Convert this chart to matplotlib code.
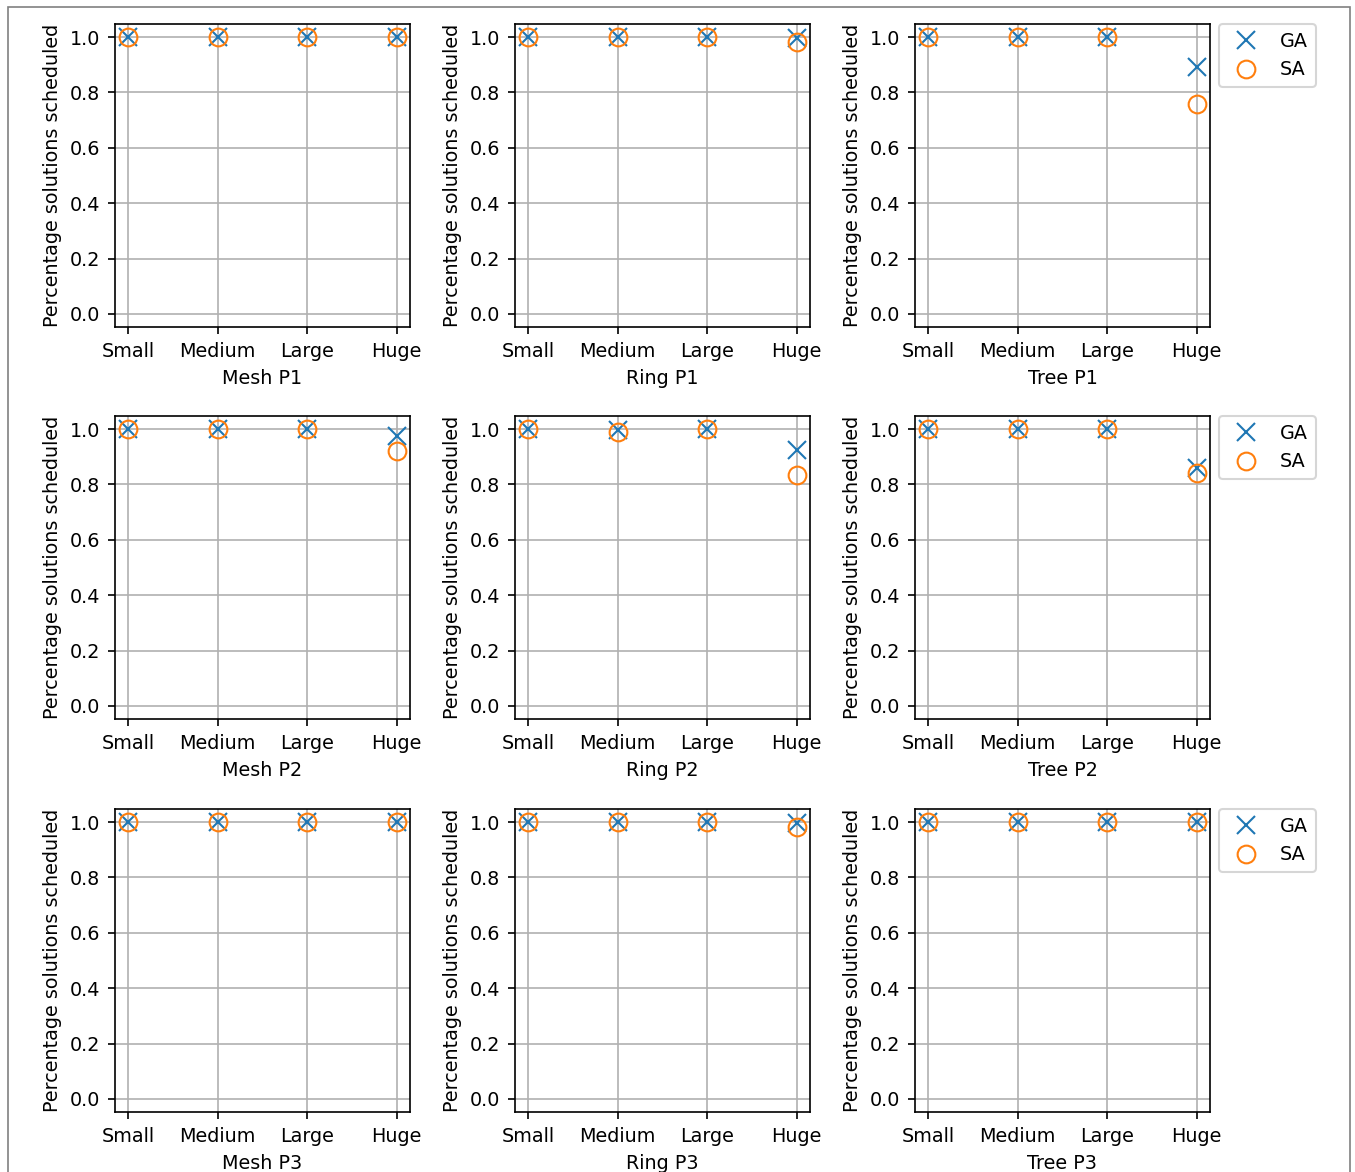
import matplotlib
matplotlib.use("Agg")
import matplotlib.pyplot as plt
from matplotlib.patches import Rectangle

plt.rcParams["font.size"] = 9.2

sizes = ["Small", "Medium", "Large", "Huge"]
topologies = ["Mesh", "Ring", "Tree"]
priorities = ["P1", "P2", "P3"]

# GA / SA percentage of solutions scheduled, per (priority, topology)
ga_mesh_p1 = [1.0, 1.0, 1.0, 1.0]
sa_mesh_p1 = [1.0, 1.0, 1.0, 1.0]
ga_ring_p1 = [1.0, 1.0, 1.0, 0.995]
sa_ring_p1 = [1.0, 1.0, 1.0, 0.982]
ga_tree_p1 = [1.0, 1.0, 1.0, 0.89]
sa_tree_p1 = [1.0, 1.0, 1.0, 0.758]

ga_mesh_p2 = [1.0, 1.0, 1.0, 0.975]
sa_mesh_p2 = [1.0, 1.0, 1.0, 0.92]
ga_ring_p2 = [1.0, 0.997, 1.0, 0.925]
sa_ring_p2 = [1.0, 0.99, 1.0, 0.834]
ga_tree_p2 = [1.0, 1.0, 1.0, 0.86]
sa_tree_p2 = [1.0, 1.0, 1.0, 0.84]

ga_mesh_p3 = [1.0, 1.0, 1.0, 1.0]
sa_mesh_p3 = [1.0, 1.0, 1.0, 1.0]
ga_ring_p3 = [1.0, 1.0, 1.0, 0.998]
sa_ring_p3 = [1.0, 1.0, 1.0, 0.982]
ga_tree_p3 = [1.0, 1.0, 1.0, 1.0]
sa_tree_p3 = [1.0, 1.0, 1.0, 1.0]

ga = [[ga_mesh_p1, ga_ring_p1, ga_tree_p1],
      [ga_mesh_p2, ga_ring_p2, ga_tree_p2],
      [ga_mesh_p3, ga_ring_p3, ga_tree_p3]]
sa = [[sa_mesh_p1, sa_ring_p1, sa_tree_p1],
      [sa_mesh_p2, sa_ring_p2, sa_tree_p2],
      [sa_mesh_p3, sa_ring_p3, sa_tree_p3]]

W, H = 1356, 1172
fig = plt.figure(figsize=(W / 150, H / 150), dpi=150)

col_left = [115, 515, 915]
col_w = 295
row_top = [24, 416, 809]
row_h = 303

x = list(range(len(sizes)))
for r in range(3):
    for c in range(3):
        ax = fig.add_axes([col_left[c] / W, 1 - (row_top[r] + row_h) / H,
                           col_w / W, row_h / H])
        ax.grid(True, color="#b0b0b0", linewidth=0.8, zorder=0)
        ax.set_axisbelow(True)
        ax.plot(x, ga[r][c], linestyle="none", marker="x", markersize=8.5,
                markeredgewidth=1.0, color="#1f77b4", label="GA", zorder=3)
        ax.plot(x, sa[r][c], linestyle="none", marker="o", markersize=8.5,
                markeredgewidth=1.0, markerfacecolor="none",
                color="#ff7f0e", label="SA", zorder=3)
        ax.set_xticks(x)
        ax.set_xticklabels(sizes)
        ax.set_ylim(-0.047, 1.047)
        ax.set_yticks([0.0, 0.2, 0.4, 0.6, 0.8, 1.0])
        ax.set_xlabel(f"{topologies[c]} {priorities[r]}")
        ax.set_ylabel("Percentage solutions scheduled")
        if c == 2:
            ax.legend(loc="upper left", bbox_to_anchor=(1.03, 1.0),
                      borderaxespad=0.0)

fig.add_artist(Rectangle((8 / W, -0.01), (1350 - 8) / W, 1 - 7 / H + 0.01,
                         transform=fig.transFigure, fill=False,
                         edgecolor="#808080", linewidth=0.8))

fig.savefig("out.png", dpi=150)
